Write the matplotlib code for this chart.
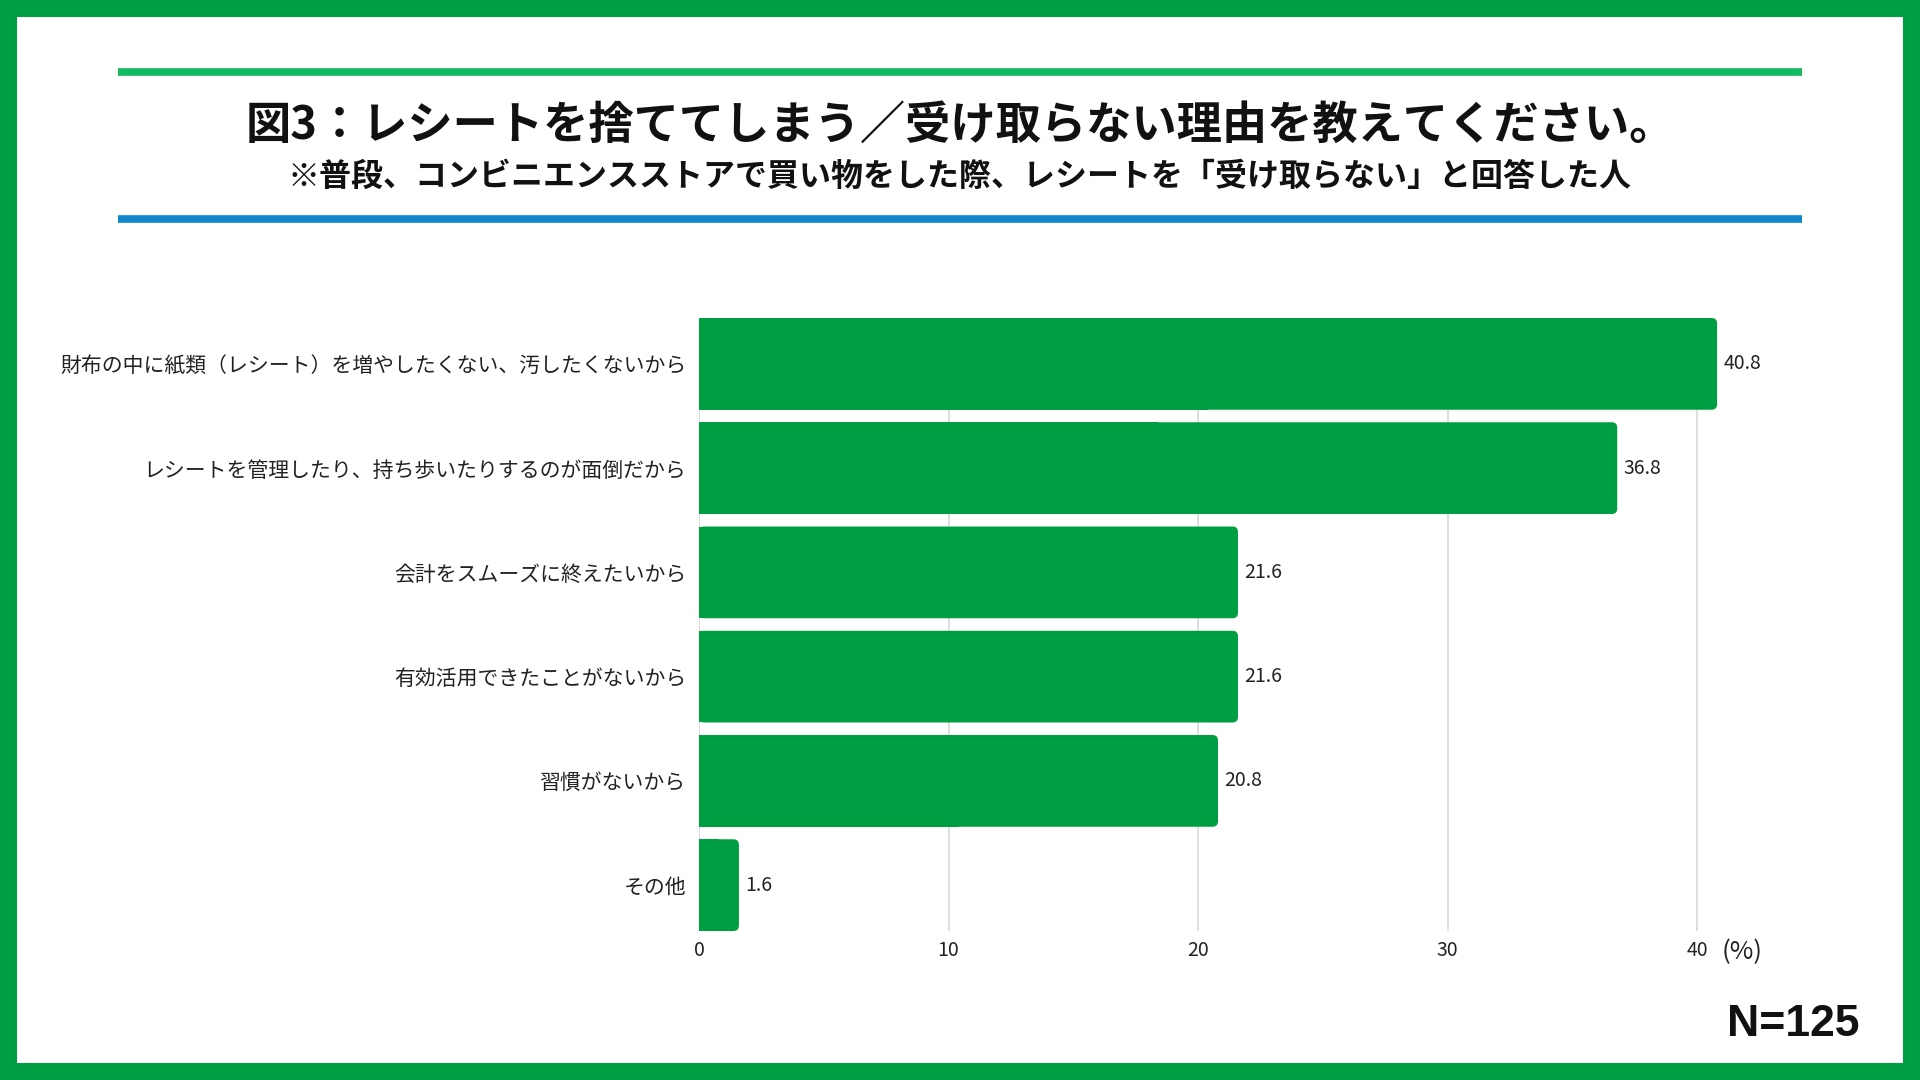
import matplotlib.pyplot as plt
from matplotlib.patches import FancyBboxPatch, Rectangle
from matplotlib.lines import Line2D

plt.rcParams['font.family'] = ['Noto Sans CJK JP', 'DejaVu Sans']

title = "図3：レシートを捨ててしまう／受け取らない理由を教えてください。"
subtitle = "※普段、コンビニエンスストアで買い物をした際、レシートを「受け取らない」と回答した人"
reasons = [
    "財布の中に紙類（レシート）を増やしたくない、汚したくないから",
    "レシートを管理したり、持ち歩いたりするのが面倒だから",
    "会計をスムーズに終えたいから",
    "有効活用できたことがないから",
    "習慣がないから",
    "その他",
]
shares = [40.8, 36.8, 21.6, 21.6, 20.8, 1.6]
xticks = [0, 10, 20, 30, 40]
sample_note = "N=125"

GREEN = "#009E42"
BAR_H = 0.88


def main():
    fig = plt.figure(figsize=(19.2, 10.8), dpi=100)

    # frame and header rules
    fig.patches.append(Rectangle((0, 0), 1, 1, transform=fig.transFigure,
                                 fill=False, edgecolor=GREEN, linewidth=24.5))
    fig.add_artist(Line2D([118 / 1920, 1802 / 1920], [1 - 71.5 / 1080] * 2,
                          color="#12B862", linewidth=5.5, solid_capstyle="butt"))
    fig.add_artist(Line2D([118 / 1920, 1802 / 1920], [1 - 218.5 / 1080] * 2,
                          color="#1188CC", linewidth=5.5, solid_capstyle="butt"))

    fig.text(0.5, 1 - 126 / 1080, title, ha="center", va="center",
             fontsize=32.6, fontweight="bold", color="#111111")
    fig.text(0.5, 1 - 177 / 1080, subtitle, ha="center", va="center",
             fontsize=23, fontweight="bold", color="#111111")

    # axes spans exactly from top of first bar to bottom of last bar
    top_px, bot_px = 318, 931
    ax = fig.add_axes([699 / 1920, 1 - bot_px / 1080, 1048 / 1920, (bot_px - top_px) / 1080])
    ax.set_xlim(0, 42)
    pad = (1 - BAR_H) / 2
    ax.set_ylim(len(reasons) - 0.5 - pad, -0.5 + pad)

    px_x = 1048 / 42
    px_y = (bot_px - top_px) / (len(reasons) - 2 * pad)
    for i, v in enumerate(shares):
        ax.barh(i, v * 0.5, height=BAR_H, color=GREEN, zorder=3)
        ax.add_patch(FancyBboxPatch((0, i - BAR_H / 2), v, BAR_H,
                                    boxstyle="round,pad=0,rounding_size=0.22",
                                    mutation_aspect=px_x / px_y,
                                    facecolor=GREEN, edgecolor="none", zorder=3))
        ax.text(v + 0.25, i, f"{v:.1f}", va="center", ha="left",
                fontsize=14, color="#222222")

    ax.set_yticks(range(len(reasons)))
    ax.set_yticklabels(reasons, fontsize=15, color="#222222")
    ax.set_xticks(xticks)
    ax.set_xticklabels([str(t) for t in xticks], fontsize=14, color="#222222")
    ax.tick_params(axis="both", length=0)
    ax.tick_params(axis="y", pad=9)
    ax.tick_params(axis="x", pad=6.5)
    ax.xaxis.grid(True, color="#D9D9D9", linewidth=1.2, zorder=0)
    ax.set_axisbelow(True)
    for s in ax.spines.values():
        s.set_visible(False)

    ax.text(41.0, -21 / (bot_px - top_px), "(%)", transform=ax.get_xaxis_transform(),
            ha="left", va="center", fontsize=18.5, color="#222222")

    fig.text(1859 / 1920, 1 - 1024 / 1080, sample_note, ha="right", va="center",
             fontsize=32, fontweight="bold", family="Liberation Sans", color="#111111")

    fig.savefig("out.png", dpi=100)
    plt.close(fig)


if __name__ == "__main__":
    main()
